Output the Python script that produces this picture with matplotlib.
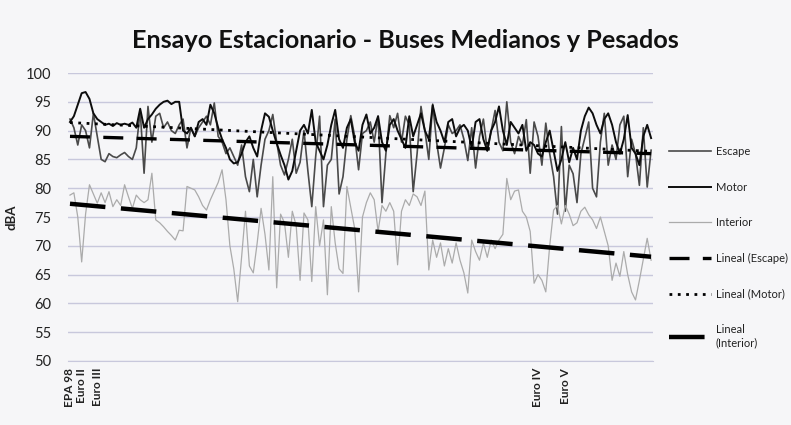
import numpy as np
import matplotlib
matplotlib.use('Agg')
import matplotlib.pyplot as plt

plt.rcParams['font.family'] = ['Lato', 'DejaVu Sans']

# Data (dBA per bus, in test order)
# ____________________________________________________________
escape = [
    92.0, 90.5, 87.5, 91.0, 90.0, 87.0, 93.0, 89.0, 85.0, 84.6,
    86.0, 85.5, 85.3, 85.8, 86.2, 85.5, 85.0, 87.0, 93.5, 82.6,
    94.2, 88.0, 92.5, 93.0, 90.5, 91.5, 90.0, 89.5, 91.0, 92.0,
    87.0, 90.5, 89.0, 90.5, 91.5, 92.5, 91.0, 94.8, 89.0, 88.0,
    86.0, 87.0, 85.5, 84.0, 87.5, 82.0, 79.4, 85.0, 78.5, 84.0,
    88.5, 90.0, 92.8, 88.0, 84.0, 82.3, 85.0, 88.5, 82.6, 84.5,
    90.0, 83.0, 76.8, 85.5, 92.5, 76.8, 84.0, 85.0, 92.0, 79.0,
    82.0, 88.5, 92.6, 89.0, 83.2, 89.5, 90.0, 91.5, 88.0, 92.5,
    77.5, 86.0, 92.6, 90.5, 93.0, 88.0, 92.5, 91.0, 79.4, 86.0,
    94.2, 90.0, 85.0, 94.6, 88.0, 83.5, 87.0, 91.0, 89.5, 90.0,
    91.0, 88.5, 84.8, 90.5, 83.5, 89.0, 92.0, 86.5, 90.0, 93.5,
    88.0, 86.5, 95.0, 88.0, 86.0, 89.0, 87.5, 91.9, 82.6, 91.5,
    89.0, 84.0, 91.3, 86.0, 82.0, 75.5, 90.7, 76.0, 84.0, 82.5,
    77.5, 86.0, 88.7, 91.5, 80.0, 78.5, 88.0, 93.0, 84.0, 87.5,
    85.0, 91.0, 92.5, 82.0, 88.5, 86.0, 80.5, 90.5, 80.2, 86.6,
]
motor = [
    91.5, 92.5, 94.5, 96.5, 96.7, 95.5, 93.0, 92.0, 91.5, 91.0,
    91.2, 90.8, 91.3, 91.0, 91.2, 91.0, 91.4, 90.5, 93.8, 90.5,
    92.0, 92.8, 93.8, 94.5, 95.0, 95.2, 94.6, 95.0, 95.0, 90.0,
    89.5, 90.5, 89.0, 91.5, 92.0, 91.0, 94.5, 93.0, 90.5, 88.5,
    87.0, 85.0, 84.3, 84.5, 86.0, 88.0, 89.0, 87.0, 85.5, 90.0,
    93.0, 92.4, 90.0, 87.8, 85.8, 84.0, 81.5, 83.0, 86.5, 90.0,
    91.0, 89.5, 93.6, 88.0, 86.5, 85.0, 87.5, 91.0, 93.6, 88.5,
    87.0, 90.5, 92.0, 88.0, 86.5, 91.0, 92.8, 89.5, 90.5, 92.5,
    88.0, 86.5, 91.0, 92.0, 90.0, 88.5, 87.0, 92.5, 89.0, 91.0,
    93.0, 90.0, 88.5, 94.4, 91.5, 90.0, 88.0, 91.5, 92.0, 89.0,
    90.5, 91.0, 90.0, 87.0, 91.5, 92.0, 88.5, 86.5, 90.0, 91.5,
    94.2, 90.0, 87.5, 91.5, 90.5, 89.5, 91.0, 86.5, 88.0, 87.5,
    86.0, 85.5, 88.0, 90.0, 86.5, 83.0, 85.0, 88.0, 84.5, 87.0,
    85.0, 90.0, 92.5, 94.0, 93.0, 91.0, 89.5, 92.0, 93.0, 91.0,
    88.0, 86.0, 88.5, 92.7, 87.0, 86.0, 84.0, 89.0, 91.0, 88.7,
]
interior = [
    78.8, 79.2, 75.0, 67.2, 75.5, 80.6, 79.0, 77.4, 79.2, 77.5,
    79.4, 76.8, 78.0, 77.0, 80.6, 78.5, 76.5, 78.8, 78.0, 77.5,
    78.0, 82.6, 74.5, 74.0, 73.3, 72.5, 71.8, 71.0, 72.7, 72.6,
    80.3, 80.0, 79.7, 78.5, 77.0, 76.2, 78.0, 79.5, 81.0, 83.2,
    78.0, 70.0, 66.0, 60.3, 68.0, 76.0, 66.5, 65.3, 70.5, 76.5,
    72.0, 65.8, 82.0, 62.7, 75.5, 74.0, 68.0, 76.0, 73.5, 64.0,
    75.7, 74.5, 63.8, 76.8, 70.0, 74.5, 61.5, 76.8, 70.5, 66.0,
    65.2, 80.3, 76.6, 73.0, 62.0, 75.0, 77.5, 79.2, 78.0, 72.5,
    77.0, 76.0, 77.5, 76.0, 66.7, 76.0, 78.0, 77.0, 79.0, 78.5,
    77.0, 79.5, 65.8, 71.0, 68.0, 70.5, 66.5, 69.5, 67.0, 70.5,
    67.5, 65.3, 61.8, 71.0, 69.0, 67.5, 70.5, 68.0, 71.0, 69.5,
    71.0, 72.0, 81.7, 78.0, 79.5, 79.7, 76.0, 75.0, 72.5, 63.5,
    65.0, 64.0, 62.0, 70.0, 76.2, 77.0, 73.8, 77.0, 75.5, 73.5,
    74.0, 76.0, 76.7, 75.4, 74.5, 73.0, 75.0, 72.5, 70.0, 64.0,
    67.0, 64.7, 69.0, 65.0, 62.0, 60.6, 64.0, 67.6, 71.3, 67.5,
]

# linear trend ("Lineal") values at first and last bus
trend_escape   = [89.0, 86.0]
trend_motor    = [91.4, 86.4]
trend_interior = [77.3, 68.1]

# only a few categories carry a label (emission standard)
label_pos  = [0, 3, 7, 120, 127]
label_text = ['EPA 98', 'Euro II', 'Euro III', 'Euro IV', 'Euro V']

# Figure
# ____________________________________________________________
BG   = '#f6f6f8'
GRID = '#c8c8dc'

fig = plt.figure(figsize=(7.91, 4.25), dpi=100, facecolor=BG)
ax  = fig.add_axes([0.086, 0.1506, 0.7396, 0.6776])
ax.set_facecolor(BG)

x  = np.arange(len(escape))
xe = [x[0], x[-1]]

ax.plot(x, escape,   color='#4a4a4a', lw=1.2, label='Escape')
ax.plot(x, motor,    color='#0d0d0d', lw=1.4, label='Motor')
ax.plot(x, interior, color='#ababab', lw=0.9, label='Interior')

ax.plot(xe, trend_escape, color='black', lw=2.4, dashes=(6, 4),
        label='Lineal (Escape)')
ax.plot(xe, trend_motor, color='black', lw=2.0, dashes=(1, 2),
        label='Lineal (Motor)')
ax.plot(xe, trend_interior, color='black', lw=3.2, dashes=(8, 3.5),
        label='Lineal\n(Interior)')

ax.set_xlim(-0.5, len(escape) - 0.5)
ax.set_ylim(50, 100)
ax.set_yticks(range(50, 101, 5))
ax.set_xticks(label_pos)
ax.set_xticklabels(label_text, rotation=90, fontsize=8.5, fontweight='bold',
                   color='#1a1a1a')

ax.yaxis.grid(True, color=GRID, lw=1.0)
ax.set_axisbelow(True)
for s in ['top', 'right', 'left']:
    ax.spines[s].set_visible(False)
ax.spines['bottom'].set_color(GRID)
ax.tick_params(axis='both', length=0, colors='#222222')
ax.tick_params(axis='y', labelsize=10.5, pad=12)
ax.tick_params(axis='x', pad=5)
ax.set_ylabel('dBA', fontsize=9.5, fontweight='bold', color='#222222', labelpad=6)

fig.text(0.513, 1 - 40 / 425, 'Ensayo Estacionario - Buses Medianos y Pesados',
         ha='center', va='center', fontsize=18.2, fontweight='bold', color='#111111')

handles, labels = ax.get_legend_handles_labels()
fig.legend(handles, labels, loc='upper left', bbox_to_anchor=(669 / 791, 1 - 146 / 425),
           frameon=False, fontsize=8, labelcolor='#222222', borderpad=0,
           borderaxespad=0, handlelength=3.8, handletextpad=0.4, labelspacing=2.22)

fig.savefig('out.png', dpi=100, facecolor=BG)
